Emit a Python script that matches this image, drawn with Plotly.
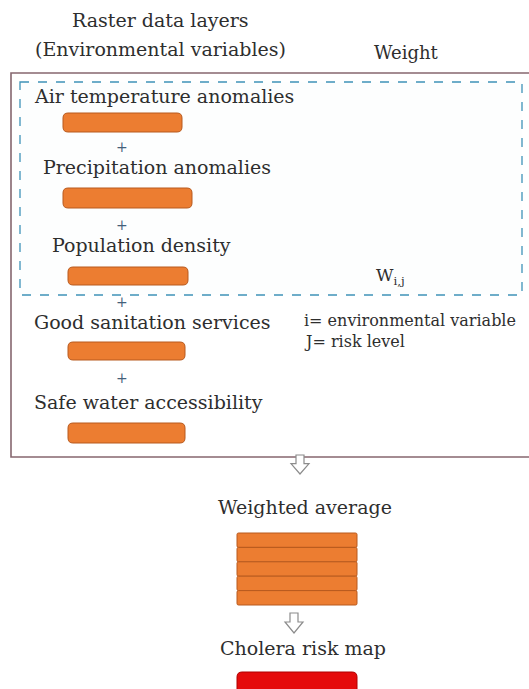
import plotly.graph_objects as go

# 図のテキスト（データ）
header_lines = ["Raster data layers", "(Environmental variables)"]
weight_label = "Weight"
layers = [
    "Air temperature anomalies",
    "Precipitation anomalies",
    "Population density",
    "Good sanitation services",
    "Safe water accessibility",
]
weight_symbol = "W<sub>i,j</sub>"
legend_notes = ["i= environmental variable", "J= risk level"]
result_labels = ["Weighted average", "Cholera risk map"]

# レイアウト用の定数
W, H = 529, 689
FONT = "DejaVu Serif"
TXT = "#2e2e2e"
ORANGE = "#EC7D31"
ORANGE_EDGE = "#B85A1E"

text_x = [32, 41, 50, 32, 32]
text_y = [96, 167, 245, 322, 402]
plus_y = [147, 225, 302, 378]
disk_x = [(63, 182), (63, 192), (68, 188), (68, 185), (68, 185)]
disk_y = [(113, 132), (188, 208), (267, 285), (342, 360), (423, 443)]


def rounded(x0, y0, x1, y1, r):
    return (f"M {x0+r},{y0} L {x1-r},{y0} Q {x1},{y0} {x1},{y0+r} "
            f"L {x1},{y1-r} Q {x1},{y1} {x1-r},{y1} L {x0+r},{y1} "
            f"Q {x0},{y1} {x0},{y1-r} L {x0},{y0+r} Q {x0},{y0} {x0+r},{y0} Z")


def hollow_arrow(cx, y0, h):
    sw, hw = 4, 9
    ym = y0 + h * 0.45
    return (f"M {cx-sw},{y0} L {cx+sw},{y0} L {cx+sw},{ym} L {cx+hw},{ym} "
            f"L {cx},{y0+h} L {cx-hw},{ym} L {cx-sw},{ym} Z")


fig = go.Figure()
shapes = []
annots = []

# 外枠と点線枠
shapes.append(dict(type="rect", x0=11, y0=73, x1=540, y1=457,
                   line=dict(color="#86676f", width=1.6), fillcolor="rgba(0,0,0,0)"))
shapes.append(dict(type="rect", x0=20, y0=82, x1=522, y1=295,
                   line=dict(color="#3f93b8", width=1.3, dash="dash"),
                   fillcolor="rgba(235,250,250,0.12)"))

# 見出し
annots.append(dict(x=160, y=20, text=header_lines[0], font=dict(size=19)))
annots.append(dict(x=160, y=49, text=header_lines[1], font=dict(size=19)))
annots.append(dict(x=406, y=52, text=weight_label, font=dict(size=18)))

# 各レイヤー
for i, name in enumerate(layers):
    annots.append(dict(x=text_x[i], y=text_y[i], text=name, xanchor="left",
                       font=dict(size=19)))
    x0, x1 = disk_x[i]
    y0, y1 = disk_y[i]
    shapes.append(dict(type="path", path=rounded(x0, y0, x1, y1, 5),
                       fillcolor=ORANGE, line=dict(color=ORANGE_EDGE, width=1)))
for py in plus_y:
    annots.append(dict(x=122, y=py, text="+", font=dict(size=14, color="#44607a")))

# 重み
annots.append(dict(x=390, y=276, text=weight_symbol, font=dict(size=17)))
annots.append(dict(x=302, y=320, text=legend_notes[0], xanchor="left", font=dict(size=16)))
annots.append(dict(x=302, y=341, text=legend_notes[1], xanchor="left", font=dict(size=16)))

# 矢印
shapes.append(dict(type="path", path=hollow_arrow(300, 455, 19),
                   fillcolor="white", line=dict(color="#8c8c8c", width=1.2)))
shapes.append(dict(type="path", path=hollow_arrow(294, 613, 20),
                   fillcolor="white", line=dict(color="#8c8c8c", width=1.2)))

# 加重平均（積み重ね）
annots.append(dict(x=305, y=507, text=result_labels[0], font=dict(size=19)))
n = len(layers)
sy0, sy1 = 533, 605
step = (sy1 - sy0) / n
for k in range(n):
    shapes.append(dict(type="path",
                       path=rounded(237, sy0 + k * step, 357, sy0 + (k + 1) * step, 1.5),
                       fillcolor=ORANGE, line=dict(color=ORANGE_EDGE, width=1)))

# コレラリスクマップ
annots.append(dict(x=303, y=648, text=result_labels[1], font=dict(size=19)))
shapes.append(dict(type="path", path=rounded(237, 672, 357, 694, 5),
                   fillcolor="#E50B0B", line=dict(color="#B00000", width=1)))

for a in annots:
    a.setdefault("xanchor", "center")
    a["yanchor"] = "middle"
    a["showarrow"] = False
    a["xref"] = "x"
    a["yref"] = "y"
    f = a["font"]
    f.setdefault("color", TXT)
    f["family"] = FONT

fig.update_layout(
    width=W, height=H,
    margin=dict(l=0, r=0, t=0, b=0),
    paper_bgcolor="white", plot_bgcolor="white",
    xaxis=dict(range=[0, W], visible=False, fixedrange=True),
    yaxis=dict(range=[H, 0], visible=False, fixedrange=True),
    shapes=shapes, annotations=annots, showlegend=False,
)

# ページ余白を消す
fig.write_html("out.html", config={"displayModeBar": False},
               post_script="document.body.style.margin='0';")
